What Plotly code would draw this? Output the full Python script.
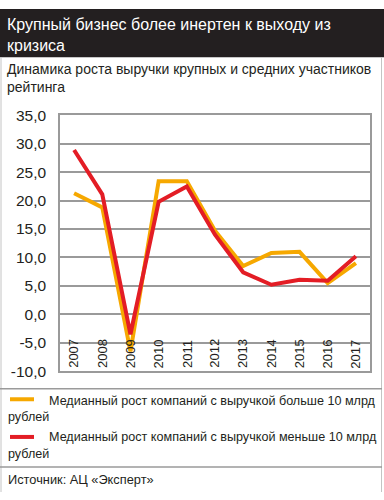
import plotly.graph_objects as go

years = ["2007", "2008", "2009", "2010", "2011", "2012", "2013", "2014", "2015", "2016", "2017"]
large = [21.3, 18.8, -6.5, 23.4, 23.4, 14.7, 8.5, 10.8, 11.0, 5.5, 9.0]
small = [28.9, 21.1, -3.5, 19.8, 22.5, 14.0, 7.4, 5.2, 6.1, 5.9, 10.2]
ytick_vals = [-10, -5, 0, 5, 10, 15, 20, 25, 30, 35]
ytick_text = ["-10,0", "-5,0", "0,0", "5,0", "10,0", "15,0", "20,0", "25,0", "30,0", "35,0"]

title_lines = ["Крупный бизнес более инертен к выходу из", "кризиса"]
subtitle_lines = ["Динамика роста выручки крупных и средних участников", "рейтинга"]
leg1 = "Медианный рост компаний с выручкой больше 10 млрд"
leg2 = "Медианный рост компаний с выручкой меньше 10 млрд"
leg_tail = "рублей"
source = "Источник: АЦ «Эксперт»"

W, H = 384, 500
FONT = "Liberation Sans, Arial, sans-serif"
ORANGE = "#f6a800"
RED = "#e31d25"
GRID = "#9a9a9a"
DARK = "#231f20"


def px(x):
    return x / W


def py(y):
    return 1 - y / H


fig = go.Figure()
fig.add_trace(go.Scatter(x=years, y=large, mode="lines",
                         line=dict(color=ORANGE, width=4), showlegend=False))
fig.add_trace(go.Scatter(x=years, y=small, mode="lines",
                         line=dict(color=RED, width=4), showlegend=False))

shapes = [
    dict(type="rect", xref="paper", yref="paper", x0=0, x1=1, y0=py(50), y1=1,
         fillcolor=DARK, line=dict(width=0), layer="below"),
    dict(type="line", xref="paper", yref="paper", x0=px(1), x1=px(1), y0=py(50), y1=0,
         line=dict(color="#c4c4c4", width=1)),
    dict(type="line", xref="paper", yref="paper", x0=px(381.5), x1=px(381.5), y0=py(50), y1=0,
         line=dict(color="#c4c4c4", width=1)),
    dict(type="line", xref="paper", yref="paper", x0=0, x1=px(382), y0=py(393), y1=py(393),
         line=dict(color=GRID, width=1.5)),
    dict(type="line", xref="paper", yref="paper", x0=0, x1=px(382), y0=py(474), y1=py(474),
         line=dict(color=GRID, width=1.5)),
    dict(type="line", xref="paper", yref="paper", x0=px(10), x1=px(34), y0=py(404), y1=py(404),
         line=dict(color=ORANGE, width=4)),
    dict(type="line", xref="paper", yref="paper", x0=px(10), x1=px(34), y0=py(443), y1=py(443),
         line=dict(color=RED, width=4)),
]


def ann(text, x, y, size, color=DARK):
    return dict(text=text, xref="paper", yref="paper", x=px(x), y=py(y),
                xanchor="left", yanchor="middle", align="left", showarrow=False,
                font=dict(family=FONT, size=size, color=color))


annotations = [
    ann(title_lines[0], 5, 16, 16, color="white"),
    ann(title_lines[1], 5, 37.5, 16, color="white"),
    ann(subtitle_lines[0], 5, 62, 14),
    ann(subtitle_lines[1], 5, 81, 14),
    ann(leg1, 47, 405.5, 12.6),
    ann(leg_tail, 6, 422.5, 12.6),
    ann(leg2, 47, 443.5, 12.6),
    ann(leg_tail, 6, 460.5, 12.6),
    ann(source, 6, 487, 12.8),
]
for i, yr in enumerate(years):
    annotations.append(dict(text=yr, x=i, y=-10, xref="x", yref="y", textangle=-90,
                            xanchor="center", yanchor="bottom", yshift=1, showarrow=False,
                            font=dict(family=FONT, size=13, color=DARK)))

fig.update_layout(
    width=W, height=H,
    margin=dict(l=0, r=0, t=0, b=0),
    paper_bgcolor="white", plot_bgcolor="white",
    shapes=shapes, annotations=annotations,
    xaxis=dict(domain=[px(60), px(370)], type="category", range=[-0.5, 10.5],
               showgrid=False, showline=True, mirror=True, linecolor=GRID, linewidth=1.5,
               ticks="", showticklabels=False),
    yaxis=dict(domain=[py(375), py(110)], range=[-10, 35], tickvals=ytick_vals, ticktext=ytick_text,
               showgrid=True, gridcolor=GRID, gridwidth=1.5, zeroline=False,
               showline=True, mirror=True, linecolor=GRID, linewidth=1.5,
               ticks="", ticklabelstandoff=9,
               tickfont=dict(family=FONT, size=15.5, color=DARK)),
)

fig.write_html("out.html")
